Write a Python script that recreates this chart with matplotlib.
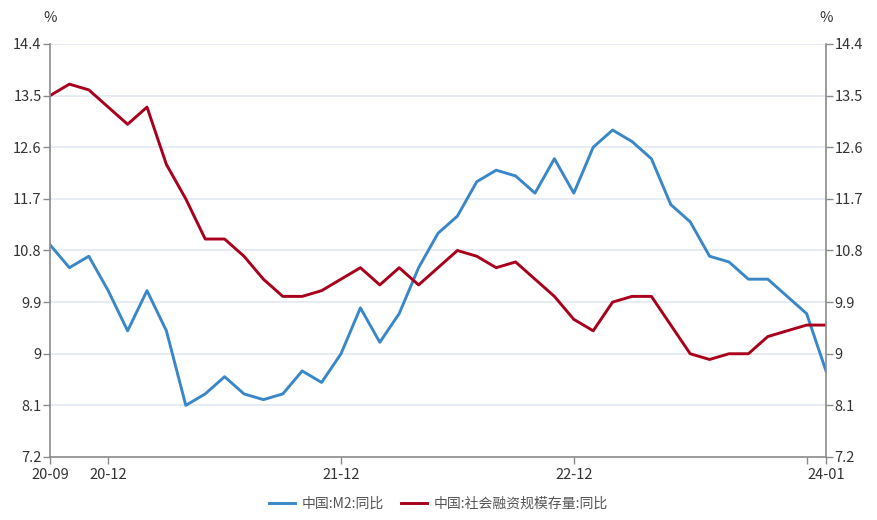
import pandas as pd
import numpy as np
import matplotlib.pyplot as plt

plt.rcParams['font.family'] = ['Noto Sans CJK SC', 'DejaVu Sans']

# datos mensuales 2020-09 .. 2024-01
meses = pd.period_range("2020-09", "2024-01", freq="M").strftime("%y-%m").tolist()

m2 = [10.9, 10.5, 10.7, 10.1, 9.4, 10.1, 9.4, 8.1, 8.3, 8.6,
      8.3, 8.2, 8.3, 8.7, 8.5, 9.0, 9.8, 9.2, 9.7, 10.5,
      11.1, 11.4, 12.0, 12.2, 12.1, 11.8, 12.4, 11.8, 12.6, 12.9,
      12.7, 12.4, 11.6, 11.3, 10.7, 10.6, 10.3, 10.3, 10.0, 9.7,
      8.7]

tsf = [13.5, 13.7, 13.6, 13.3, 13.0, 13.3, 12.3, 11.7, 11.0, 11.0,
       10.7, 10.3, 10.0, 10.0, 10.1, 10.3, 10.5, 10.2, 10.5, 10.2,
       10.5, 10.8, 10.7, 10.5, 10.6, 10.3, 10.0, 9.6, 9.4, 9.9,
       10.0, 10.0, 9.5, 9.0, 8.9, 9.0, 9.0, 9.3, 9.4, 9.5,
       9.5]

etiquetas_x = ["20-09", "20-12", "21-12", "22-12", "", "24-01"]
pos_x = [meses.index(m) for m in ["20-09", "20-12", "21-12", "22-12", "23-12", "24-01"]]
yticks = [7.2, 8.1, 9, 9.9, 10.8, 11.7, 12.6, 13.5, 14.4]
ytick_labels = ["7.2", "8.1", "9", "9.9", "10.8", "11.7", "12.6", "13.5", "14.4"]

AZUL = "#3a87c8"
ROJO = "#a8001c"
GRIS = "#8a8a8a"

fig = plt.figure(figsize=(8.77, 5.2), dpi=100)
ax = fig.add_axes([50 / 877, 1 - 457 / 520, 776 / 877, 413 / 520])

x = np.arange(len(meses))
ax.plot(x, m2, color=AZUL, lw=2.1, label="中国:M2:同比")
ax.plot(x, tsf, color=ROJO, lw=2.1, label="中国:社会融资规模存量:同比")

ax.set_xlim(0, len(meses) - 1)
ax.set_ylim(7.2, 14.4)
ax.set_yticks(yticks)
ax.set_yticklabels(ytick_labels)
ax.set_xticks(pos_x)
ax.set_xticklabels(etiquetas_x)

for y in yticks[1:]:
    ax.axhline(y, color="#e3e8f2", lw=1.2, zorder=0)

for lado in ["left", "right", "bottom"]:
    ax.spines[lado].set_color(GRIS)
    ax.spines[lado].set_linewidth(1.2)
ax.spines["top"].set_visible(False)

ax.tick_params(axis="y", which="both", left=True, right=True, labelleft=True,
               labelright=True, length=5, width=1, color=GRIS,
               labelsize=10.5, labelcolor="#333333", pad=1)
ax.tick_params(axis="x", length=5, width=1, color=GRIS,
               labelsize=10.5, labelcolor="#333333", pad=3)

ax.text(0, 1.045, "%", transform=ax.transAxes, ha="center", va="bottom",
        fontsize=10.5, color="#333333")
ax.text(1, 1.045, "%", transform=ax.transAxes, ha="center", va="bottom",
        fontsize=10.5, color="#333333")

fig.legend(loc="lower center", bbox_to_anchor=(0.5, -0.006), ncol=2, frameon=False,
           fontsize=10, handlelength=1.9, handletextpad=0.5, columnspacing=1.2,
           labelcolor="#555555")

plt.savefig("out.png", dpi=100)
